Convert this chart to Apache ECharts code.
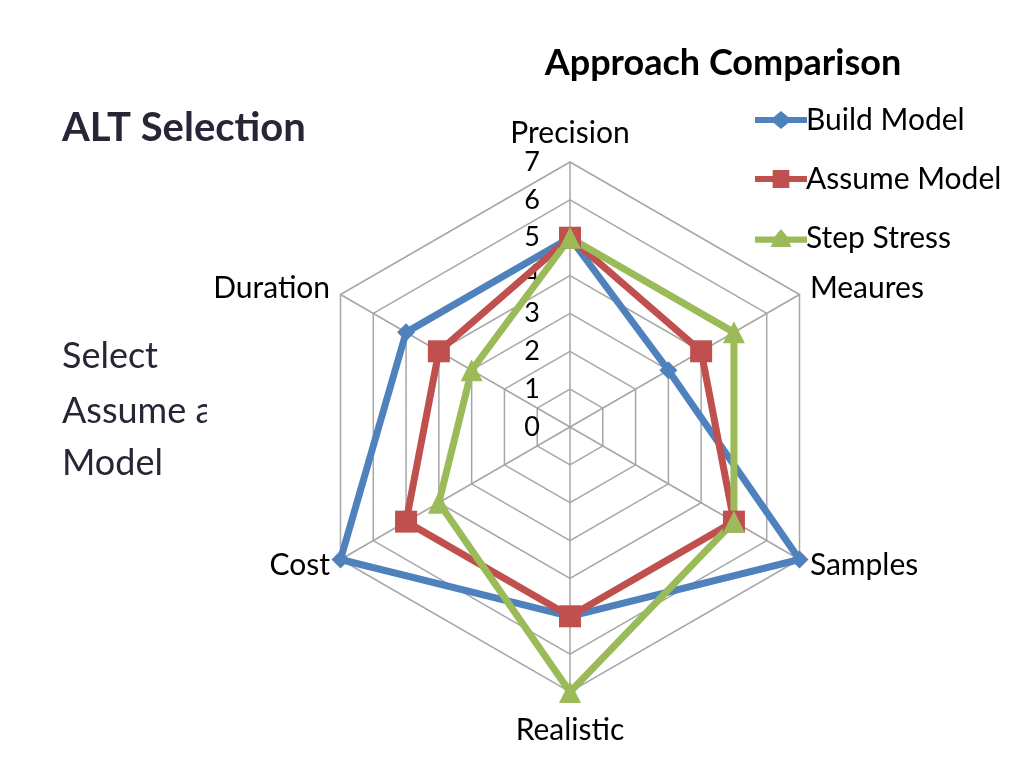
<!DOCTYPE html>
<html><head><meta charset="utf-8">
<script src="https://cdn.jsdelivr.net/npm/echarts@6/dist/echarts.min.js"></script>
<style>html,body{margin:0;padding:0;background:#fff}#c{width:1024px;height:768px}</style>
</head><body><div id="c"></div>
<script>
// Indicators listed counterclockwise starting at top
const indicatorNames = ['Precision', 'Duration', 'Cost', 'Realistic', 'Samples', 'Meaures'];
const axisMax = 7;
const buildModel = [5, 5, 7, 5, 7, 3];
const assumeModel = [5, 4, 5, 5, 5, 4];
const stepStress = [5, 3, 4, 7, 5, 5];
const seriesNames = ['Build Model', 'Assume Model', 'Step Stress'];

const FONT = 'Lato, "Open Sans", sans-serif';
const colors = ['#4F81BD', '#C0504D', '#9BBB59'];
const icons = [
  'path://M0,5 L18,5 L25,-1 L32,5 L50,5 L50,11 L32,11 L25,17 L18,11 L0,11 Z',
  'path://M0,5 L17,5 L17,-1 L33,-1 L33,5 L50,5 L50,11 L33,11 L33,17 L17,17 L17,11 L0,11 Z',
  'path://M0,5 L19,5 L25,-2 L31,5 L50,5 L50,11 L33,11 L35,15 L15,15 L17,11 L0,11 Z'
];
const namePads = [[0, 0, 0, 0], [8, 0, 0, 0], [12, 0, 0, 0], [11, 0, 0, 0], [12, 0, 0, 0], [8, 0, 0, 0]];

const chart = echarts.init(document.getElementById('c'), null, {renderer: 'canvas'});
chart.setOption({
  backgroundColor: '#fff',
  animation: false,
  title: {
    text: 'Approach Comparison',
    left: 718, top: 40, textAlign: 'center',
    textStyle: {fontFamily: FONT, fontWeight: 'bold', fontSize: 36, color: '#000'}
  },
  legend: {
    orient: 'vertical', left: 750, top: 100, itemGap: 29,
    itemWidth: 52, itemHeight: 18, symbolKeepAspect: false,
    textStyle: {fontFamily: FONT, fontSize: 30, color: '#000', padding: [0, 0, 0, -6]},
    data: seriesNames.map((n, i) => ({name: n, icon: icons[i]}))
  },
  graphic: [
    {type: 'text', left: 62, top: 108, style: {text: 'ALT Selection', fontFamily: FONT, fontWeight: 'bold', fontSize: 40, fill: '#262636'}},
    {type: 'text', left: 62, top: 338, style: {text: 'Select', fontFamily: FONT, fontSize: 36, fill: '#262636'}},
    {type: 'text', left: 62, top: 393, style: {text: 'Assume a', fontFamily: FONT, fontSize: 36, fill: '#262636'}},
    {type: 'text', left: 62, top: 445, style: {text: 'Model', fontFamily: FONT, fontSize: 36, fill: '#262636'}},
    {type: 'rect', shape: {x: 207, y: 385, width: 60, height: 50}, style: {fill: '#fff'}}
  ],
  radar: {
    center: [570, 427],
    radius: 265,
    shape: 'polygon',
    splitNumber: 7,
    startAngle: 90,
    axisName: {fontFamily: FONT, fontSize: 30, color: '#000'},
    nameGap: 12,
    axisLine: {lineStyle: {color: '#a6a6a6', width: 1.5}},
    splitLine: {lineStyle: {color: '#a6a6a6', width: 1.5}},
    splitArea: {show: false},
    axisTick: {show: false},
    axisLabel: {show: true, fontFamily: FONT, fontSize: 27, color: '#000', margin: 30, showMinLabel: true, showMaxLabel: true},
    indicator: indicatorNames.map((n, i) => ({
      name: n, min: 0, max: axisMax,
      nameTextStyle: {padding: namePads[i]},
      axisLabel: {show: i === 0}
    }))
  },
  series: [{
    type: 'radar',
    data: [
      {name: seriesNames[0], value: buildModel, symbol: 'diamond', symbolSize: 18,
       lineStyle: {color: colors[0], width: 7}, itemStyle: {color: colors[0]}},
      {name: seriesNames[1], value: assumeModel, symbol: 'rect', symbolSize: 22,
       lineStyle: {color: colors[1], width: 7}, itemStyle: {color: colors[1]}},
      {name: seriesNames[2], value: stepStress, symbol: 'triangle', symbolSize: 22,
       lineStyle: {color: colors[2], width: 7}, itemStyle: {color: colors[2]}}
    ]
  }]
});
</script></body></html>
